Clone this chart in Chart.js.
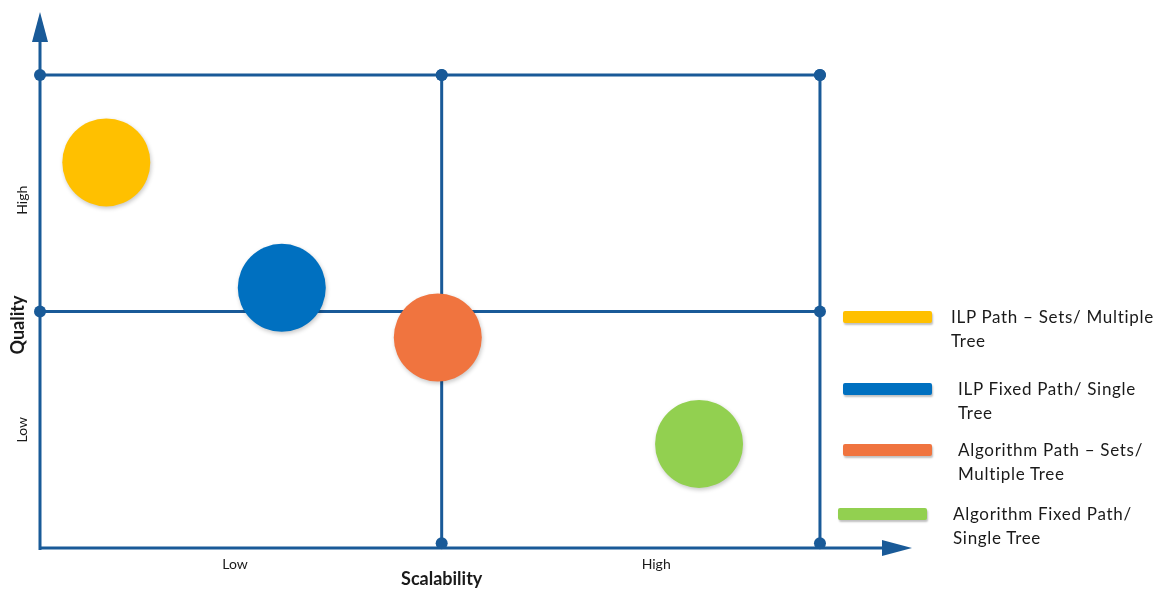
<!DOCTYPE html>
<html>
<head>
<meta charset="utf-8">
<script src="https://cdn.jsdelivr.net/npm/chart.js@4"></script>
<style>
  body { margin: 0; background: #fff; }
  #wrap { position: relative; width: 1170px; height: 594px; }
  #legend { position: absolute; left: 0; top: 0; font-family: Lato, "Open Sans", sans-serif; font-size: 17px; color: #1a1a1a; }
  .swatch { position: absolute; width: 89px; height: 12px; border-radius: 2px; box-shadow: 1px 2px 2px rgba(0,0,0,0.25); }
  .label { position: absolute; white-space: nowrap; line-height: 24px; letter-spacing: 0.7px; }
</style>
</head>
<body>
<div id="wrap">
  <canvas id="chart" width="1170" height="594"></canvas>
  <div id="legend"></div>
</div>
<script>
// data
const seriesNames = ["ILP Path – Sets/ Multiple Tree", "ILP Fixed Path/ Single Tree", "Algorithm Path – Sets/ Multiple Tree", "Algorithm Fixed Path/ Single Tree"];
const legendLines = [["ILP Path – Sets/ Multiple", "Tree"], ["ILP Fixed Path/ Single", "Tree"], ["Algorithm Path – Sets/", "Multiple Tree"], ["Algorithm Fixed Path/", "Single Tree"]];
const scalability = [0.17, 0.62, 1.02, 1.69];
const quality = [1.63, 1.10, 0.89, 0.44];
const colors = ["#FFC000", "#0070C0", "#F0743F", "#92D050"];

const xTickLabels = ["Low", "High"];
const xTickValues = [0.5, 1.58];
const yTickLabels = ["Low", "High"];
const yTickValues = [0.5, 1.47];
const xDividers = [1.03, 2];
const yDividers = [1, 2];

const lineColor = "#195A98";

// quadrant lines
const gridSets = [];
gridSets.push({ type: "line", data: [{x: 0, y: 2}, {x: xDividers[0], y: 2}, {x: 2, y: 2}] });
gridSets.push({ type: "line", data: [{x: 0, y: yDividers[0]}, {x: 2, y: yDividers[0]}] });
xDividers.forEach(v => gridSets.push({ type: "line", data: [{x: v, y: 0.02}, {x: v, y: 2}] }));
gridSets.forEach(d => Object.assign(d, {
  borderColor: lineColor, backgroundColor: lineColor, borderWidth: 3,
  pointRadius: 6, pointHoverRadius: 6, pointBorderWidth: 0, order: 2, clip: false, fill: false
}));

const bubbleSets = seriesNames.map((name, i) => ({
  type: "scatter",
  label: name,
  data: [{x: scalability[i], y: quality[i]}],
  backgroundColor: colors[i],
  borderWidth: 0,
  pointRadius: 44,
  pointHoverRadius: 44,
  order: 1,
  clip: false,
  shadow: true
}));

const decor = {
  id: "decor",
  beforeDatasetsDraw(chart) {
    const ctx = chart.ctx, xs = chart.scales.x, ys = chart.scales.y;
    const x0 = xs.getPixelForValue(0), y0 = ys.getPixelForValue(0);
    const xEnd = xs.right, yEnd = ys.top;
    ctx.save();
    ctx.strokeStyle = lineColor;
    ctx.fillStyle = lineColor;
    ctx.lineWidth = 3;
    ctx.beginPath();
    ctx.moveTo(x0, y0 + 2);
    ctx.lineTo(x0, yEnd + 20);
    ctx.moveTo(x0 - 1, y0);
    ctx.lineTo(xEnd - 20, y0);
    ctx.stroke();
    // arrow heads
    ctx.beginPath();
    ctx.moveTo(x0, yEnd);
    ctx.lineTo(x0 + 8, yEnd + 30);
    ctx.lineTo(x0 - 8, yEnd + 30);
    ctx.closePath();
    ctx.fill();
    ctx.beginPath();
    ctx.moveTo(xEnd, y0);
    ctx.lineTo(xEnd - 30, y0 - 8);
    ctx.lineTo(xEnd - 30, y0 + 8);
    ctx.closePath();
    ctx.fill();

    // tick labels
    ctx.fillStyle = "#1a1a1a";
    ctx.textAlign = "center";
    ctx.textBaseline = "middle";
    ctx.font = "14px Lato, sans-serif";
    xTickLabels.forEach((t, i) => ctx.fillText(t, xs.getPixelForValue(xTickValues[i]), y0 + 16));
    yTickLabels.forEach((t, i) => {
      ctx.save();
      ctx.translate(x0 - 18, ys.getPixelForValue(yTickValues[i]));
      ctx.rotate(-Math.PI / 2);
      ctx.fillText(t, 0, 0);
      ctx.restore();
    });
    // axis titles
    ctx.font = "bold 18px Lato, sans-serif";
    ctx.fillText("Scalability", xs.getPixelForValue(xDividers[0]), y0 + 31);
    ctx.save();
    ctx.translate(x0 - 22, 325);
    ctx.rotate(-Math.PI / 2);
    ctx.fillText("Quality", 0, 0);
    ctx.restore();
    ctx.restore();
  },
  beforeDatasetDraw(chart, args) {
    if (args.meta.controller.getDataset().shadow) {
      const ctx = chart.ctx;
      ctx.save();
      ctx.shadowColor = "rgba(0,0,0,0.22)";
      ctx.shadowBlur = 4;
      ctx.shadowOffsetX = 1;
      ctx.shadowOffsetY = 2;
    }
  },
  afterDatasetDraw(chart, args) {
    if (args.meta.controller.getDataset().shadow) chart.ctx.restore();
  }
};

new Chart(document.getElementById("chart"), {
  data: { datasets: [...bubbleSets, ...gridSets] },
  options: {
    responsive: false,
    animation: false,
    layout: { autoPadding: false, padding: { left: 40, right: 1170 - 912, top: 12, bottom: 594 - 548 } },
    scales: {
      x: { type: "linear", min: 0, max: 2.236, display: false },
      y: { type: "linear", min: 0, max: 2.266, display: false }
    },
    plugins: { legend: { display: false }, tooltip: { enabled: false } }
  },
  plugins: [decor]
});

// legend
const legendPos = [[843, 311, 951], [843, 383, 958], [843, 444, 958], [838, 508, 953]];
const legendEl = document.getElementById("legend");
legendLines.forEach((lines, i) => {
  const sw = document.createElement("div");
  sw.className = "swatch";
  sw.style.left = legendPos[i][0] + "px";
  sw.style.top = legendPos[i][1] + "px";
  sw.style.background = colors[i];
  legendEl.appendChild(sw);
  const lb = document.createElement("div");
  lb.className = "label";
  lb.style.left = legendPos[i][2] + "px";
  lb.style.top = (legendPos[i][1] - 6) + "px";
  lb.innerHTML = lines.join("<br>");
  legendEl.appendChild(lb);
});
</script>
</body>
</html>
